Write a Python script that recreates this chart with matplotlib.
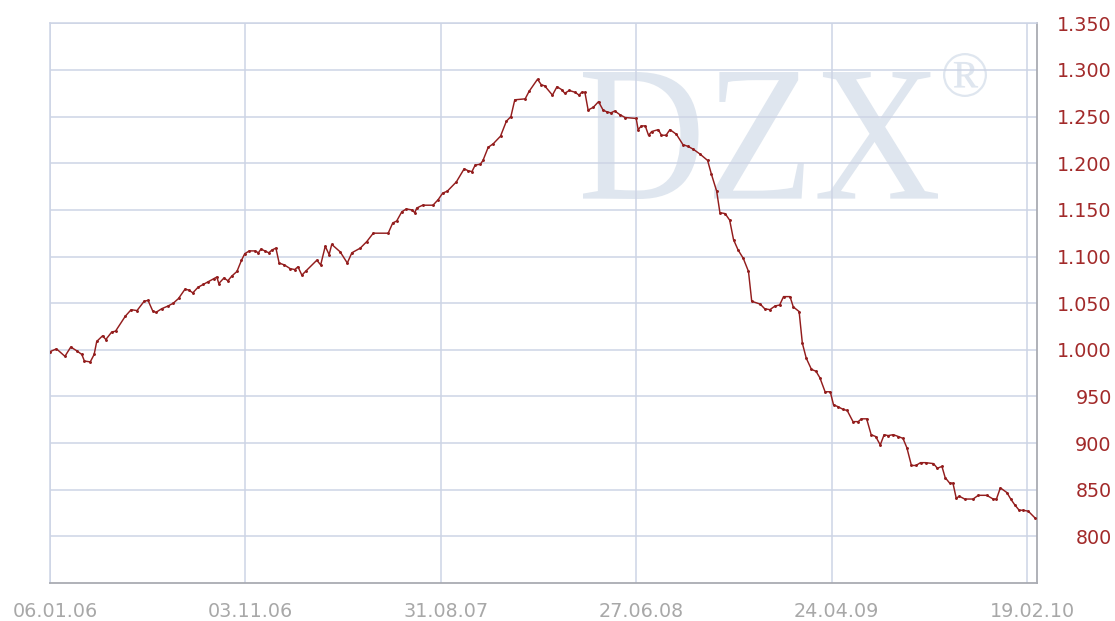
import matplotlib
matplotlib.use("Agg")
import matplotlib.pyplot as plt
import matplotlib.dates as mdates
from matplotlib.ticker import FixedLocator, FuncFormatter
from matplotlib.textpath import TextPath
from matplotlib.patches import PathPatch
from matplotlib.font_manager import FontProperties
from matplotlib.transforms import Affine2D, ScaledTranslation
import pandas as pd

# Kursverlauf
dates = [
    "2006-01-06", "2006-01-16", "2006-01-29", "2006-02-07", "2006-02-16", "2006-02-24", "2006-02-28",
    "2006-03-09", "2006-03-15", "2006-03-19", "2006-03-28", "2006-04-02", "2006-04-11", "2006-04-17",
    "2006-05-02", "2006-05-11", "2006-05-20", "2006-05-31", "2006-06-06", "2006-06-13", "2006-06-18",
    "2006-06-27", "2006-07-07", "2006-07-15", "2006-07-23", "2006-08-02", "2006-08-08", "2006-08-14",
    "2006-08-22", "2006-08-30", "2006-09-07", "2006-09-15", "2006-09-20", "2006-09-23", "2006-10-01",
    "2006-10-07", "2006-10-13", "2006-10-21", "2006-10-28", "2006-11-02", "2006-11-09", "2006-11-18",
    "2006-11-23", "2006-11-27", "2006-12-03", "2006-12-09", "2006-12-14", "2006-12-20", "2006-12-25",
    "2007-01-02", "2007-01-11", "2007-01-18", "2007-01-23", "2007-01-29", "2007-02-05", "2007-02-21",
    "2007-02-27", "2007-03-06", "2007-03-12", "2007-03-16", "2007-03-29", "2007-04-09", "2007-04-16",
    "2007-04-29", "2007-05-09", "2007-05-19", "2007-06-11", "2007-06-18", "2007-06-24", "2007-07-02",
    "2007-07-09", "2007-07-17", "2007-07-22", "2007-07-25", "2007-08-03", "2007-08-19", "2007-08-27",
    "2007-09-03", "2007-09-10", "2007-09-24", "2007-10-06", "2007-10-12", "2007-10-18", "2007-10-23",
    "2007-10-31", "2007-11-04", "2007-11-12", "2007-11-20", "2007-12-01", "2007-12-10", "2007-12-17",
    "2007-12-23", "2008-01-08", "2008-01-14", "2008-01-27", "2008-02-02", "2008-02-07", "2008-02-19",
    "2008-02-26", "2008-03-04", "2008-03-09", "2008-03-16", "2008-03-25", "2008-03-31", "2008-04-04",
    "2008-04-09", "2008-04-14", "2008-04-22", "2008-04-30", "2008-05-07", "2008-05-13", "2008-05-19",
    "2008-05-25", "2008-06-02", "2008-06-10", "2008-06-27", "2008-06-30", "2008-07-05", "2008-07-11",
    "2008-07-16", "2008-07-21", "2008-07-31", "2008-08-05", "2008-08-12", "2008-08-18", "2008-08-28",
    "2008-09-07", "2008-09-15", "2008-09-23", "2008-10-03", "2008-10-15", "2008-10-21", "2008-10-29",
    "2008-11-03", "2008-11-11", "2008-11-18", "2008-11-24", "2008-12-01", "2008-12-09", "2008-12-17",
    "2008-12-22", "2009-01-04", "2009-01-11", "2009-01-19", "2009-01-27", "2009-02-03", "2009-02-09",
    "2009-02-19", "2009-02-24", "2009-03-05", "2009-03-10", "2009-03-16", "2009-03-24", "2009-03-31",
    "2009-04-06", "2009-04-14", "2009-04-22", "2009-04-27", "2009-05-04", "2009-05-12", "2009-05-18",
    "2009-05-27", "2009-06-04", "2009-06-09", "2009-06-17", "2009-06-24", "2009-07-01", "2009-07-08",
    "2009-07-14", "2009-07-20", "2009-07-28", "2009-08-05", "2009-08-12", "2009-08-18", "2009-08-25",
    "2009-09-01", "2009-09-08", "2009-09-16", "2009-09-28", "2009-10-04", "2009-10-11", "2009-10-16",
    "2009-10-23", "2009-10-28", "2009-11-02", "2009-11-07", "2009-11-15", "2009-11-28", "2009-12-06",
    "2009-12-19", "2009-12-29", "2010-01-03", "2010-01-09", "2010-01-19", "2010-01-25", "2010-01-31",
    "2010-02-07", "2010-02-13", "2010-02-21", "2010-03-03",
]
values = [
    998, 1001, 993, 1003, 999, 995, 988,
    987, 995, 1009, 1015, 1011, 1019, 1020,
    1036, 1043, 1042, 1052, 1053, 1042, 1040,
    1044, 1047, 1050, 1055, 1065, 1064, 1061,
    1067, 1070, 1073, 1076, 1078, 1071, 1077,
    1074, 1079, 1084, 1096, 1103, 1106, 1106,
    1104, 1108, 1106, 1104, 1107, 1109, 1093,
    1091, 1087, 1086, 1089, 1080, 1085, 1096,
    1091, 1111, 1102, 1113, 1105, 1093, 1104,
    1109, 1116, 1125, 1125, 1136, 1138, 1148,
    1151, 1150, 1147, 1152, 1155, 1155, 1161,
    1168, 1170, 1180, 1194, 1192, 1191, 1198,
    1199, 1203, 1217, 1221, 1229, 1245, 1250,
    1268, 1269, 1277, 1290, 1284, 1283, 1273,
    1282, 1279, 1275, 1278, 1276, 1273, 1276,
    1276, 1257, 1260, 1266, 1257, 1255, 1254,
    1256, 1252, 1249, 1248, 1236, 1240, 1240,
    1230, 1234, 1236, 1230, 1230, 1236, 1231,
    1220, 1218, 1215, 1210, 1203, 1188, 1170,
    1147, 1146, 1139, 1118, 1107, 1098, 1084,
    1052, 1049, 1044, 1043, 1047, 1048, 1057,
    1057, 1046, 1041, 1007, 991, 979, 977,
    970, 955, 955, 941, 939, 936, 935,
    923, 923, 926, 926, 909, 907, 898,
    909, 908, 909, 907, 905, 895, 876,
    876, 879, 879, 878, 873, 875, 863,
    857, 857, 841, 843, 840, 840, 844,
    844, 840, 840, 852, 847, 840, 834,
    828, 828, 827, 820,
]

x_ticks = ["2006-01-06", "2006-11-03", "2007-08-31", "2008-06-27", "2009-04-24", "2010-02-19"]
y_ticks = list(range(800, 1351, 50))

plt.rcParams["font.family"] = "DejaVu Sans"

W, H = 1115, 621
fig = plt.figure(figsize=(W / 100, H / 100), dpi=100, facecolor="white")
ax = fig.add_axes([50 / W, 1 - 583 / H, (1036.7 - 50) / W, (583 - 23.3) / H])

ax.plot(pd.to_datetime(dates), values, color="#931d1d", lw=1.05,
        marker="o", ms=1.1, zorder=3)

ax.set_xlim(pd.Timestamp("2006-01-06"), pd.Timestamp("2010-03-06"))
ax.set_ylim(750, 1350)

ax.xaxis.set_major_locator(FixedLocator(mdates.date2num(pd.to_datetime(x_ticks))))
ax.xaxis.set_major_formatter(mdates.DateFormatter("%d.%m.%y"))
ax.yaxis.set_major_locator(FixedLocator(y_ticks))
ax.yaxis.set_major_formatter(FuncFormatter(lambda v, p: f"{v:,.0f}".replace(",", ".")))
ax.yaxis.tick_right()

ax.tick_params(length=0)
ax.tick_params(axis="x", pad=14, labelsize=13.8, labelcolor="#a8a8a8")
ax.tick_params(axis="y", pad=54, labelsize=13.8, labelcolor="#a22a2a")
for lbl in ax.get_yticklabels():
    lbl.set_horizontalalignment("right")
for lbl in ax.get_xticklabels():
    lbl.set_transform(lbl.get_transform() + ScaledTranslation(0.05, 0, fig.dpi_scale_trans))

ax.grid(True, color="#cdd4e5", lw=1.1)
ax.set_axisbelow(True)

for side in ["left", "top"]:
    ax.spines[side].set_color("#cdd4e5")
    ax.spines[side].set_linewidth(1.1)
for side in ["bottom", "right"]:
    ax.spines[side].set_color("#a9abb2")
    ax.spines[side].set_linewidth(1.3)


# Wasserzeichen DZX (in Pixelbox einpassen)
def wasserzeichen(text, box):
    tp = TextPath((0, 0), text, size=100, prop=FontProperties(family="Liberation Serif"))
    ext = tp.get_extents()
    x0, y0, x1, y1 = box
    fx0, fx1 = x0 / W, x1 / W
    fy0, fy1 = 1 - y1 / H, 1 - y0 / H
    tr = (Affine2D().translate(-ext.x0, -ext.y0)
          .scale((fx1 - fx0) / ext.width, (fy1 - fy0) / ext.height)
          .translate(fx0, fy0) + fig.transFigure)
    ax.add_patch(PathPatch(tp, transform=tr, facecolor="#dfe6ef", edgecolor="none", zorder=0.2))


wasserzeichen("DZX", (583, 72, 938, 199))
wasserzeichen("\u00ae", (943, 53, 987, 97))

fig.savefig("out.png", dpi=100, facecolor="white")
